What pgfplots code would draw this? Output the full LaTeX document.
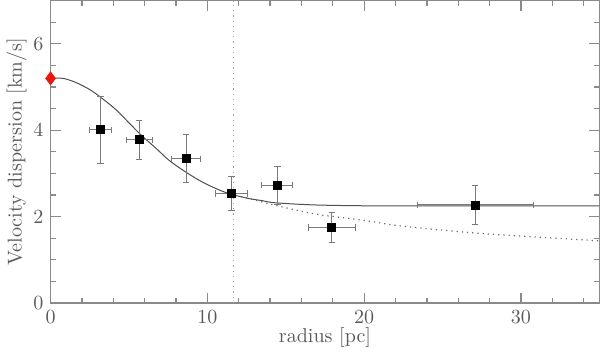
\documentclass[border=0pt]{standalone}
\usepackage{pgfplots}
\pgfplotsset{compat=1.18}
\definecolor{axisgray}{HTML}{8A8A8A}
\definecolor{textgray}{HTML}{5A5A5A}
\definecolor{curve}{HTML}{505050}
\definecolor{errgray}{HTML}{7A7A7A}
\definecolor{diamondred}{HTML}{E8160C}

\pgfplotstableread{
x      y     ex    ey
3.18   4.01  0.72  0.78
5.65   3.78  0.83  0.45
8.64   3.34  0.95  0.55
11.55  2.54  1.02  0.40
14.46  2.73  0.98  0.44
17.94  1.75  1.50  0.35
27.07  2.27  3.70  0.46
}\dispdata

\begin{document}
\begin{tikzpicture}
\begin{axis}[
  scale only axis, width=274pt, height=151pt,
  xmin=0, xmax=35, ymin=0, ymax=7,
  xtick={0,10,20,30}, ytick={0,2,4,6},
  minor xtick={2,4,6,8,12,14,16,18,22,24,26,28,32,34},
  minor ytick={0.5,1,...,6.5},
  tick align=inside, ticks=both,
  major tick length=5pt, minor tick length=2.5pt,
  axis line style={axisgray, line width=0.6pt},
  every tick/.style={axisgray, line width=0.6pt},
  tick label style={text=textgray},
  label style={text=textgray},
  xlabel={radius [pc]}, ylabel={Velocity dispersion [km/s]},
  xlabel style={yshift=4.5pt}, ylabel style={yshift=-3.5pt},
  clip=false,
]
% vertical marker
\addplot[axisgray!80, dotted, line width=0.6pt] coordinates {(11.65,0) (11.65,7)};
% model curves
\addplot[curve, line width=0.5pt, smooth] coordinates {
  (0,5.20) (0.8,5.20) (1.65,5.10) (2.5,4.94) (3.17,4.77) (4.19,4.47)
  (5.03,4.16) (5.8,3.88) (6.73,3.58) (7.57,3.30) (8.63,3.03) (9.68,2.80)
  (10.74,2.62) (11.5,2.52) (12.64,2.42) (13.5,2.37) (14.35,2.32)
  (16.9,2.27) (20.5,2.25) (25,2.25) (35,2.25)};
\addplot[curve!85, line width=0.6pt, dotted, smooth] coordinates {
  (11.5,2.52) (12.64,2.42) (13.5,2.34) (14.35,2.26) (16.9,2.06)
  (19.85,1.92) (22,1.80) (24.6,1.70) (27.5,1.61) (30,1.55) (35,1.44)};
% data with errors
\addplot[only marks, mark=square*, mark size=2pt, black,
  error bars/.cd, x dir=both, x explicit, y dir=both, y explicit,
  error mark=-,
  error bar style={errgray, line width=0.5pt},
  error mark options={rotate=90, errgray, mark size=1.6pt, line width=0.5pt}]
  table[x=x, y=y, x error=ex, y error=ey] {\dispdata};
% central value
\addplot[only marks, mark=diamond*, mark size=3.2pt, diamondred] coordinates {(0,5.2)};
\end{axis}
\end{tikzpicture}
\end{document}
